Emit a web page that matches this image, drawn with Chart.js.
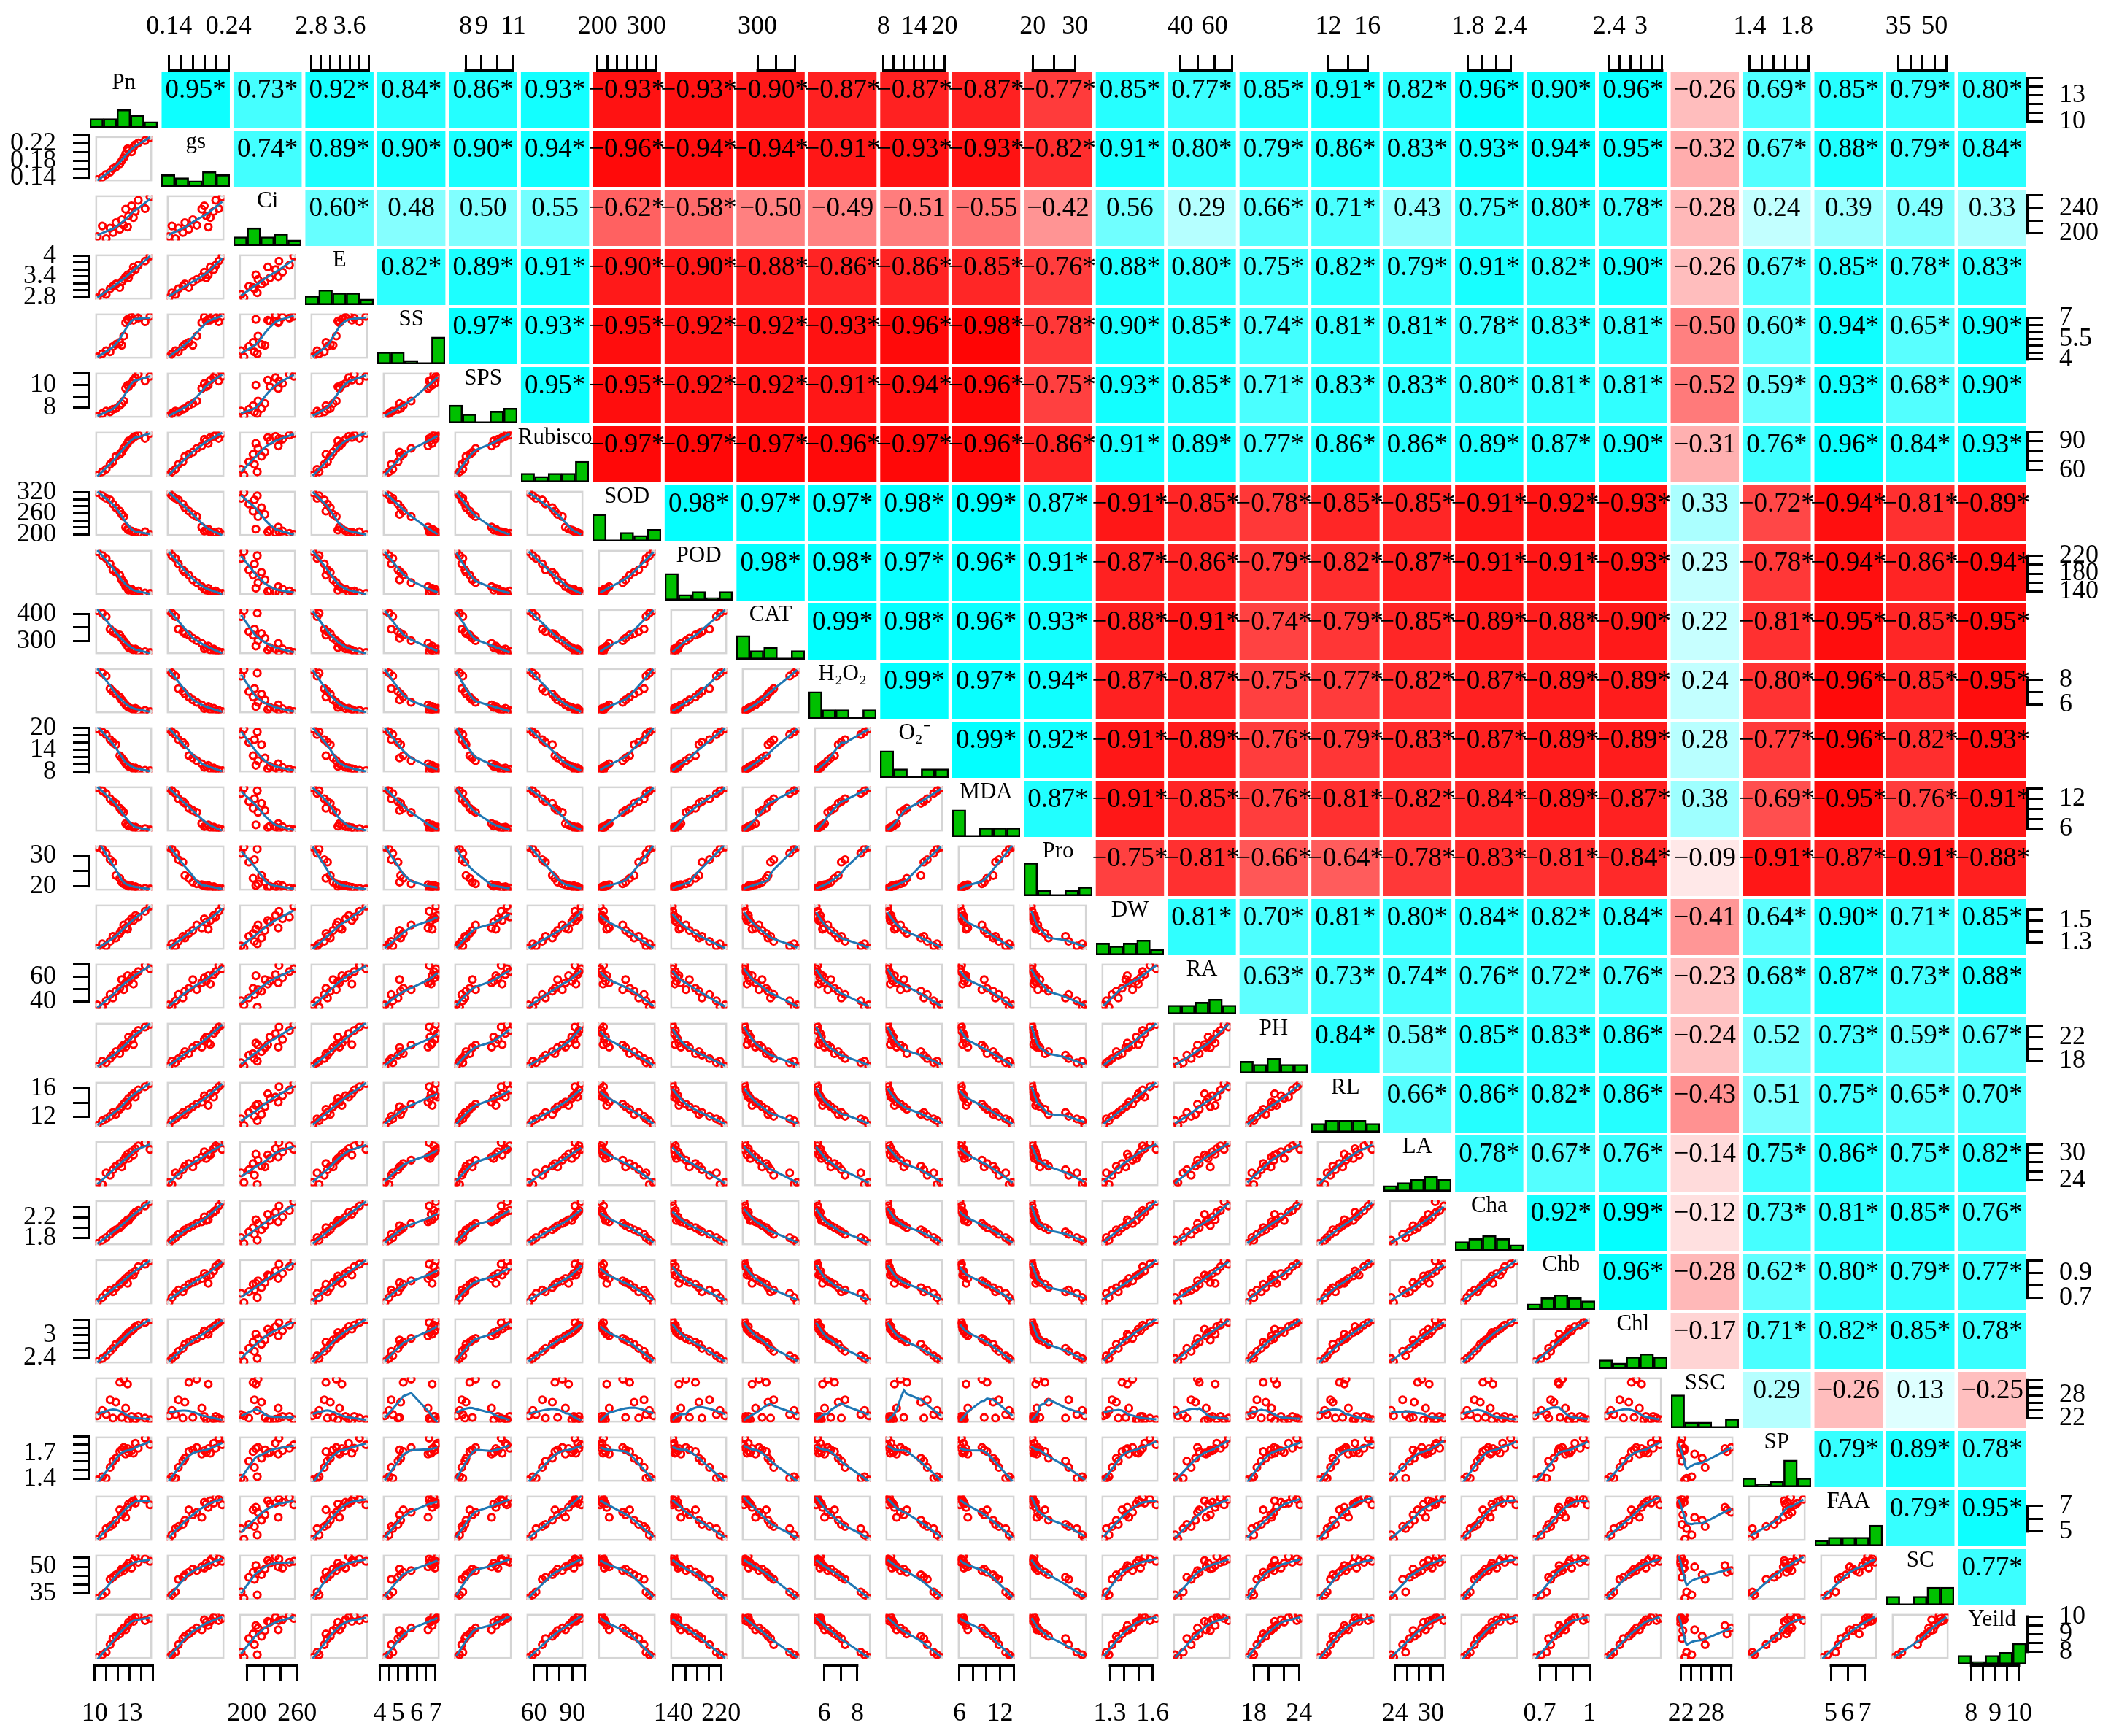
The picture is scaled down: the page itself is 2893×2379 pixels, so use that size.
<!DOCTYPE html>
<html lang="en">
<head>
<meta charset="UTF-8">
<title>Correlation matrix – pairs plot</title>
<script src="https://cdn.jsdelivr.net/npm/chart.js"></script>
<style>
  html, body { margin: 0; padding: 0; background: #fff; }
  #page { position: relative; width: 2893px; height: 2379px; overflow: hidden; background: #fff; }
  #page canvas { position: absolute; }
</style>
</head>
<body>
<div id="page"></div>
<script>
// variable names (columns of the data table)
const varNames = ['Pn', 'gs', 'Ci', 'E', 'SS', 'SPS', 'Rubisco', 'SOD', 'POD', 'CAT', 'H\u2082O\u2082', 'O\u2082\u207B', 'MDA', 'Pro',
  'DW', 'RA', 'PH', 'RL', 'LA', 'Cha', 'Chb', 'Chl', 'SSC', 'SP', 'FAA', 'SC', 'Yeild'];

const Pn = [9.8, 10.3, 10.7, 11.1, 11.4, 11.7, 12.1, 12.3, 12.5, 12.7, 12.9, 13.0, 13.3, 13.5, 13.7, 14.0, 14.7, 15.2];
const gs = [0.131, 0.137, 0.144, 0.150, 0.159, 0.163, 0.171, 0.179, 0.187, 0.197, 0.210, 0.206, 0.202, 0.214, 0.221, 0.225, 0.231, 0.238];
const Ci = [191, 210, 187, 206, 198, 216, 204, 221, 211, 240, 208, 228, 246, 225, 236, 256, 241, 262];
const E = [2.72, 2.88, 2.83, 3.01, 3.09, 3.16, 3.05, 3.23, 3.31, 3.39, 3.45, 3.35, 3.54, 3.70, 3.62, 3.76, 3.89, 4.05];
const SS = [4.00, 4.27, 4.51, 4.41, 4.85, 5.02, 5.19, 4.95, 5.70, 6.79, 7.06, 6.92, 7.23, 6.99, 7.40, 7.16, 6.86, 7.30];
const SPS = [7.10, 7.34, 7.58, 7.50, 7.74, 7.82, 8.10, 8.30, 8.54, 9.74, 10.06, 9.90, 10.22, 10.54, 10.78, 11.10, 10.46, 10.90];
const Rubisco = [52.0, 55.9, 58.9, 64.7, 67.7, 74.1, 76.5, 79.0, 83.4, 86.3, 89.2, 92.2, 94.1, 96.1, 97.6, 99.0, 95.1, 101.0];
const SOD = [325, 315, 307, 302, 289, 278, 267, 257, 250, 217, 211, 208, 205, 202, 200, 198, 203, 195];
const POD = [235, 225, 218, 204, 189, 183, 176, 164, 157, 147, 143, 138, 141, 135, 133, 136, 131, 130];
const CAT = [420, 410, 396, 345, 335, 327, 321, 308, 298, 287, 276, 270, 265, 260, 264, 255, 253, 250];
const H2O2 = [9.00, 8.70, 8.43, 7.29, 7.02, 6.80, 6.53, 6.26, 6.04, 5.81, 5.66, 5.58, 5.47, 5.39, 5.50, 5.28, 5.31, 5.20];
const O2 = [20.3, 19.4, 18.6, 17.1, 16.3, 15.6, 12.3, 11.6, 10.8, 9.9, 9.4, 9.1, 8.8, 8.4, 8.6, 8.2, 7.9, 7.8];
const MDA = [14.6, 14.0, 13.4, 12.2, 11.6, 11.2, 10.1, 9.6, 9.2, 6.7, 6.4, 6.1, 6.0, 5.8, 5.9, 5.5, 5.6, 5.3];
const Pro = [33.5, 32.8, 31.3, 29.0, 28.1, 23.3, 22.3, 20.9, 20.3, 20.0, 19.7, 19.4, 19.6, 19.1, 19.3, 18.8, 18.7, 18.5];
const DW = [1.220, 1.264, 1.242, 1.290, 1.343, 1.326, 1.374, 1.405, 1.462, 1.431, 1.418, 1.493, 1.528, 1.510, 1.563, 1.546, 1.607, 1.660];
const RA = [35.9, 34.0, 39.6, 45.1, 42.1, 48.1, 50.7, 58.4, 49.5, 55.5, 61.8, 56.9, 59.9, 54.4, 62.9, 65.5, 71.0, 68.0];
const PH = [16.5, 17.5, 17.2, 18.0, 18.7, 19.4, 19.0, 20.2, 20.7, 20.3, 21.1, 22.3, 21.8, 20.8, 23.0, 23.6, 24.3, 24.8];
const RL = [10.5, 11.2, 11.5, 11.9, 12.5, 12.2, 13.0, 13.4, 13.8, 14.1, 13.6, 14.7, 15.1, 15.4, 14.9, 16.0, 16.5, 17.0];
const LA = [23.0, 22.5, 25.4, 24.8, 26.2, 27.1, 27.8, 26.9, 28.6, 29.4, 30.1, 29.0, 30.7, 29.9, 31.5, 32.2, 33.0, 31.3];
const Cha = [1.650, 1.722, 1.776, 1.848, 1.902, 1.947, 1.992, 2.037, 2.082, 2.118, 2.163, 2.145, 2.226, 2.280, 2.325, 2.361, 2.460, 2.550];
const Chb = [0.640, 0.686, 0.724, 0.754, 0.739, 0.777, 0.807, 0.822, 0.838, 0.860, 0.815, 0.883, 0.906, 0.891, 0.929, 0.967, 0.990, 1.020];
const Chl = [2.250, 2.346, 2.418, 2.550, 2.634, 2.754, 2.814, 2.874, 2.922, 2.994, 3.042, 3.090, 3.138, 3.186, 3.258, 3.306, 3.378, 3.450];
const SSC = [22.0, 23.6, 22.4, 26.8, 21.3, 26.1, 32.0, 21.5, 33.0, 24.3, 31.5, 20.8, 21.8, 20.5, 21.0, 21.8, 21.3, 20.9];
const SP = [1.360, 1.403, 1.382, 1.522, 1.603, 1.641, 1.727, 1.749, 1.781, 1.695, 1.765, 1.716, 1.738, 1.706, 1.835, 1.770, 1.900, 1.814];
const FAA = [4.20, 4.57, 5.13, 5.31, 5.50, 5.87, 6.79, 6.35, 6.57, 6.12, 7.01, 7.31, 7.46, 7.60, 7.38, 7.90, 7.72, 7.23];
const SC = [31.0, 33.1, 34.9, 42.7, 44.0, 45.6, 47.1, 49.2, 48.2, 50.5, 51.3, 52.8, 49.7, 54.4, 57.0, 53.4, 55.4, 53.9];
const Yeild = [7.55, 7.71, 7.87, 8.35, 8.74, 8.88, 9.03, 9.25, 9.41, 9.30, 9.56, 9.78, 9.94, 9.83, 10.09, 10.20, 9.88, 10.01];

const series = [Pn, gs, Ci, E, SS, SPS, Rubisco, SOD, POD, CAT, H2O2, O2, MDA, Pro,
  DW, RA, PH, RL, LA, Cha, Chb, Chl, SSC, SP, FAA, SC, Yeild];

// tick marks of each variable's axis
const tickValues = [
  [10, 11, 12, 13, 14, 15], [0.14, 0.16, 0.18, 0.20, 0.22, 0.24], [200, 220, 240, 260], [2.8, 3.0, 3.2, 3.4, 3.6, 3.8, 4.0],
  [4, 4.5, 5, 5.5, 6, 6.5, 7], [8, 9, 10, 11], [60, 70, 80, 90, 100], [200, 220, 240, 260, 280, 300, 320],
  [140, 160, 180, 200, 220], [300, 350, 400], [6, 7, 8], [8, 10, 12, 14, 16, 18, 20], [6, 8, 10, 12, 14], [20, 25, 30],
  [1.3, 1.4, 1.5, 1.6], [40, 50, 60, 70], [18, 20, 22, 24], [12, 14, 16], [24, 26, 28, 30, 32], [1.8, 2.0, 2.2, 2.4],
  [0.7, 0.8, 0.9, 1.0], [2.4, 2.6, 2.8, 3.0, 3.2, 3.4], [22, 24, 26, 28, 30, 32], [1.4, 1.5, 1.6, 1.7, 1.8, 1.9],
  [5, 6, 7], [35, 40, 45, 50, 55], [8, 8.5, 9, 9.5, 10]
];
// labelled ticks on the top / bottom axes
const colTickLabels = [
  [10, 13], [0.14, 0.24], [200, 260], [2.8, 3.6], [4, 5, 6, 7], [8, 9, 11], [60, 90], [200, 300], [140, 220], [300],
  [6, 8], [8, 14, 20], [6, 12], [20, 30], [1.3, 1.6], [40, 60], [18, 24], [12, 16], [24, 30], [1.8, 2.4], [0.7, 1],
  [2.4, 3], [22, 28], [1.4, 1.8], [5, 6, 7], [35, 50], [8, 9, 10]
];
// labelled ticks on the left / right axes
const rowTickLabels = [
  [10, 13], [0.14, 0.18, 0.22], [200, 240], [2.8, 3.4, 4], [4, 5.5, 7], [8, 10], [60, 90], [200, 260, 320], [140, 180, 220],
  [300, 400], [6, 8], [8, 14, 20], [6, 12], [20, 30], [1.3, 1.5], [40, 60], [18, 22], [12, 16], [24, 30], [1.8, 2.2],
  [0.7, 0.9], [2.4, 3], [22, 28], [1.4, 1.7], [5, 7], [35, 50], [8, 9, 10]
];

// Pearson r, upper triangle, row by row
const corrRows = [
  [0.95, 0.73, 0.92, 0.84, 0.86, 0.93, -0.93, -0.93, -0.90, -0.87, -0.87, -0.87, -0.77, 0.85, 0.77, 0.85, 0.91, 0.82, 0.96, 0.90, 0.96, -0.26, 0.69, 0.85, 0.79, 0.80],
  [0.74, 0.89, 0.90, 0.90, 0.94, -0.96, -0.94, -0.94, -0.91, -0.93, -0.93, -0.82, 0.91, 0.80, 0.79, 0.86, 0.83, 0.93, 0.94, 0.95, -0.32, 0.67, 0.88, 0.79, 0.84],
  [0.60, 0.48, 0.50, 0.55, -0.62, -0.58, -0.50, -0.49, -0.51, -0.55, -0.42, 0.56, 0.29, 0.66, 0.71, 0.43, 0.75, 0.80, 0.78, -0.28, 0.24, 0.39, 0.49, 0.33],
  [0.82, 0.89, 0.91, -0.90, -0.90, -0.88, -0.86, -0.86, -0.85, -0.76, 0.88, 0.80, 0.75, 0.82, 0.79, 0.91, 0.82, 0.90, -0.26, 0.67, 0.85, 0.78, 0.83],
  [0.97, 0.93, -0.95, -0.92, -0.92, -0.93, -0.96, -0.98, -0.78, 0.90, 0.85, 0.74, 0.81, 0.81, 0.78, 0.83, 0.81, -0.50, 0.60, 0.94, 0.65, 0.90],
  [0.95, -0.95, -0.92, -0.92, -0.91, -0.94, -0.96, -0.75, 0.93, 0.85, 0.71, 0.83, 0.83, 0.80, 0.81, 0.81, -0.52, 0.59, 0.93, 0.68, 0.90],
  [-0.97, -0.97, -0.97, -0.96, -0.97, -0.96, -0.86, 0.91, 0.89, 0.77, 0.86, 0.86, 0.89, 0.87, 0.90, -0.31, 0.76, 0.96, 0.84, 0.93],
  [0.98, 0.97, 0.97, 0.98, 0.99, 0.87, -0.91, -0.85, -0.78, -0.85, -0.85, -0.91, -0.92, -0.93, 0.33, -0.72, -0.94, -0.81, -0.89],
  [0.98, 0.98, 0.97, 0.96, 0.91, -0.87, -0.86, -0.79, -0.82, -0.87, -0.91, -0.91, -0.93, 0.23, -0.78, -0.94, -0.86, -0.94],
  [0.99, 0.98, 0.96, 0.93, -0.88, -0.91, -0.74, -0.79, -0.85, -0.89, -0.88, -0.90, 0.22, -0.81, -0.95, -0.85, -0.95],
  [0.99, 0.97, 0.94, -0.87, -0.87, -0.75, -0.77, -0.82, -0.87, -0.89, -0.89, 0.24, -0.80, -0.96, -0.85, -0.95],
  [0.99, 0.92, -0.91, -0.89, -0.76, -0.79, -0.83, -0.87, -0.89, -0.89, 0.28, -0.77, -0.96, -0.82, -0.93],
  [0.87, -0.91, -0.85, -0.76, -0.81, -0.82, -0.84, -0.89, -0.87, 0.38, -0.69, -0.95, -0.76, -0.91],
  [-0.75, -0.81, -0.66, -0.64, -0.78, -0.83, -0.81, -0.84, -0.09, -0.91, -0.87, -0.91, -0.88],
  [0.81, 0.70, 0.81, 0.80, 0.84, 0.82, 0.84, -0.41, 0.64, 0.90, 0.71, 0.85],
  [0.63, 0.73, 0.74, 0.76, 0.72, 0.76, -0.23, 0.68, 0.87, 0.73, 0.88],
  [0.84, 0.58, 0.85, 0.83, 0.86, -0.24, 0.52, 0.73, 0.59, 0.67],
  [0.66, 0.86, 0.82, 0.86, -0.43, 0.51, 0.75, 0.65, 0.70],
  [0.78, 0.67, 0.76, -0.14, 0.75, 0.86, 0.75, 0.82],
  [0.92, 0.99, -0.12, 0.73, 0.81, 0.85, 0.76],
  [0.96, -0.28, 0.62, 0.80, 0.79, 0.77],
  [-0.17, 0.71, 0.82, 0.85, 0.78],
  [0.29, -0.26, 0.13, -0.25],
  [0.79, 0.89, 0.78],
  [0.79, 0.95],
  [0.77]
];
const sigCut = 0.57;   // values at or above this carry the star
const histBins = 5;

// ---- layout ----
const W = 2893, H = 2379, N = varNames.length;
const GX = 123, GY = 98, PITCH_X = 98.48, PITCH_Y = 81, GAP_X = 5, GAP_Y = 4;
const CELL_W = PITCH_X - GAP_X, CELL_H = PITCH_Y - GAP_Y;
const colL = j => Math.round(GX + j * PITCH_X);
const colR = j => Math.round(GX + j * PITCH_X + CELL_W);
const rowT = i => Math.round(GY + i * PITCH_Y);
const rowB = i => Math.round(GY + i * PITCH_Y + CELL_H);
const gridRight = colR(N - 1), gridBottom = rowB(N - 1);
const SERIF = '"Liberation Serif", "Times New Roman", serif';

Chart.defaults.animation = false;
Chart.defaults.responsive = false;
Chart.defaults.maintainAspectRatio = false;
Chart.defaults.devicePixelRatio = 1;
Chart.defaults.events = [];
Chart.defaults.plugins.legend.display = false;
Chart.defaults.plugins.tooltip.enabled = false;
Chart.defaults.font.family = SERIF;

const page = document.getElementById('page');
function addCanvas(left, top, w, h, z) {
  const c = document.createElement('canvas');
  c.width = w; c.height = h;
  c.style.left = left + 'px'; c.style.top = top + 'px';
  c.style.width = w + 'px'; c.style.height = h + 'px';
  if (z) c.style.zIndex = z;
  page.appendChild(c);
  return c;
}

// R style axis range: data range stretched by 4 %
const ranges = series.map(v => {
  const mn = Math.min(...v), mx = Math.max(...v), d = (mx - mn) * 0.04;
  return [mn - d, mx + d];
});

function histCounts(v) {
  const mn = Math.min(...v), mx = Math.max(...v);
  const c = new Array(histBins).fill(0);
  v.forEach(a => {
    let b = Math.floor((a - mn) / (mx - mn) * histBins + 1e-9);
    if (b >= histBins) b = histBins - 1;
    c[b]++;
  });
  return c;
}

// lowess smoother, like panel.smooth (f = 2/3, iter = 3)
function lowess(xs, ys, f, iter) {
  const n = xs.length;
  const order = xs.map((_, i) => i).sort((a, b) => xs[a] - xs[b]);
  const x = order.map(i => xs[i]), y = order.map(i => ys[i]);
  const r = Math.max(2, Math.min(n, Math.floor(f * n + 1e-7)));
  const span2 = Math.pow(x[n - 1] - x[0], 2) || 1;
  let rw = new Array(n).fill(1);
  const fit = new Array(n).fill(0);
  for (let it = 0; it <= iter; it++) {
    for (let i = 0; i < n; i++) {
      const d = x.map(v => Math.abs(v - x[i]));
      const h = d.slice().sort((a, b) => a - b)[r - 1];
      let sw = 0, sx = 0, sy = 0, sxx = 0, sxy = 0;
      for (let k = 0; k < n; k++) {
        const u = h > 0 ? d[k] / (h * 1.0001) : 0;
        let w = u < 1 ? Math.pow(1 - u * u * u, 3) : 0;
        w *= rw[k];
        sw += w; sx += w * x[k]; sy += w * y[k]; sxx += w * x[k] * x[k]; sxy += w * x[k] * y[k];
      }
      if (sw <= 0) { fit[i] = y[i]; continue; }
      const mx = sx / sw, my = sy / sw, vx = sxx / sw - mx * mx;
      const b = vx > 1e-9 * span2 ? (sxy / sw - mx * my) / vx : 0;
      fit[i] = my + b * (x[i] - mx);
    }
    if (it === iter) break;
    const res = y.map((v, k) => v - fit[k]);
    const a = res.map(Math.abs).sort((p, q) => p - q);
    const s = 6 * (a[Math.floor((n - 1) / 2)] + a[Math.ceil((n - 1) / 2)]) / 2;
    if (s <= 0) break;
    rw = res.map(e => { const u = Math.abs(e) / s; return u < 1 ? Math.pow(1 - u * u, 2) : 0; });
  }
  return x.map((v, k) => ({ x: v, y: fit[k] }));
}

const panelBox = {
  id: 'panelBox',
  beforeDatasetsDraw(chart) {
    const { ctx, chartArea: a } = chart;
    ctx.save();
    ctx.strokeStyle = '#d5d5d5';
    ctx.lineWidth = 2.5;
    ctx.strokeRect(a.left + 1.25, a.top + 1.25, a.width - 2.5, a.height - 2.5);
    ctx.restore();
  }
};

// ---- lower panels: scatter + smooth ----
for (let i = 1; i < N; i++) {
  for (let j = 0; j < i; j++) {
    const xs = series[j], ys = series[i];
    const pts = xs.map((v, k) => ({ x: v, y: ys[k] }));
    const cv = addCanvas(colL(j), rowT(i), colR(j) - colL(j), rowB(i) - rowT(i));
    new Chart(cv, {
      type: 'scatter',
      data: {
        datasets: [
          { type: 'line', data: lowess(xs, ys, 2 / 3, 3), borderColor: '#1f77b4', borderWidth: 3,
            pointRadius: 0, fill: false, tension: 0 },
          { data: pts, showLine: false, pointRadius: 4.6, pointBorderWidth: 3,
            borderColor: '#ff0000', pointBorderColor: '#ff0000', backgroundColor: 'rgba(0,0,0,0)' }
        ]
      },
      options: {
        layout: { padding: 0 },
        scales: {
          x: { type: 'linear', display: false, min: ranges[j][0], max: ranges[j][1] },
          y: { type: 'linear', display: false, min: ranges[i][0], max: ranges[i][1] }
        }
      },
      plugins: [panelBox]
    });
  }
}

// ---- diagonal: histograms ----
const histBase = {
  id: 'histBase',
  afterDatasetsDraw(chart) {
    const { ctx, chartArea: a } = chart;
    ctx.save();
    ctx.strokeStyle = '#000';
    ctx.lineWidth = 2.6;
    ctx.beginPath();
    ctx.moveTo(a.left, a.bottom - 1.3);
    ctx.lineTo(a.right, a.bottom - 1.3);
    ctx.stroke();
    ctx.restore();
  }
};
for (let k = 0; k < N; k++) {
  const cv = addCanvas(colL(k), rowT(k), colR(k) - colL(k), rowB(k) - rowT(k));
  new Chart(cv, {
    type: 'bar',
    data: {
      labels: ['1', '2', '3', '4', '5'],
      datasets: [{ data: histCounts(series[k]), backgroundColor: '#00c000', borderColor: '#000',
        borderWidth: 2.6, borderSkipped: false, barPercentage: 1, categoryPercentage: 1 }]
    },
    options: {
      layout: { padding: 0 },
      scales: {
        x: { display: false, offset: true },
        y: { display: false, min: 0, max: 18.6 }
      }
    },
    plugins: [histBase]
  });
}

// ---- outer axes ----
const sameVal = (a, b) => Math.abs(a - b) < 1e-9;
const axisLine = {
  id: 'axisLine',
  afterDraw(chart) {
    const s = chart.options.plugins.axisLine.side;
    const sc = s === 'top' || s === 'bottom' ? chart.scales.x : chart.scales.y;
    const t = sc.ticks;
    const p0 = sc.getPixelForValue(t[0].value), p1 = sc.getPixelForValue(t[t.length - 1].value);
    const a = chart.chartArea, ctx = chart.ctx;
    ctx.save();
    ctx.strokeStyle = '#000';
    ctx.lineWidth = 3;
    ctx.lineCap = 'square';
    ctx.beginPath();
    if (s === 'top') { ctx.moveTo(p0, a.top - 1.5); ctx.lineTo(p1, a.top - 1.5); }
    if (s === 'bottom') { ctx.moveTo(p0, a.bottom + 1.5); ctx.lineTo(p1, a.bottom + 1.5); }
    if (s === 'left') { ctx.moveTo(a.left - 1.5, p0); ctx.lineTo(a.left - 1.5, p1); }
    if (s === 'right') { ctx.moveTo(a.right + 1.5, p0); ctx.lineTo(a.right + 1.5, p1); }
    ctx.stroke();
    ctx.restore();
  }
};

function axisScale(k, side, size, labs, pad) {
  const horiz = side === 'top' || side === 'bottom';
  return {
    type: 'linear', position: side, bounds: 'data',
    min: ranges[k][0], max: ranges[k][1],
    afterBuildTicks: s => { s.ticks = tickValues[k].map(v => ({ value: v })); },
    afterFit: s => { if (horiz) s.height = size; else s.width = size; },
    grid: { display: true, drawOnChartArea: false, drawTicks: true, tickLength: 23, color: '#000', lineWidth: 3 },
    border: { display: false },
    ticks: {
      autoSkip: false, maxRotation: 0, minRotation: 0, padding: pad, color: '#000',
      font: { family: SERIF, size: 36 },
      callback: v => (labs.some(l => sameVal(l, v)) ? String(v) : '')
    }
  };
}

const PADX = 70, PADY = 40;
for (let k = 0; k < N; k++) {
  if (k % 2 === 1) {
    // top axis
    const cv = addCanvas(colL(k) - PADX, 0, colR(k) - colL(k) + 2 * PADX, GY + 10);
    new Chart(cv, {
      type: 'scatter', data: { datasets: [] },
      options: {
        layout: { autoPadding: false, padding: { left: PADX, right: PADX, top: 0, bottom: 0 } },
        scales: { x: axisScale(k, 'top', GY, colTickLabels[k], 17), y: { display: false } },
        plugins: { axisLine: { side: 'top' } }
      },
      plugins: [axisLine]
    });
    // left axis
    const cl = addCanvas(0, rowT(k) - PADY, GX + 10, rowB(k) - rowT(k) + 2 * PADY);
    new Chart(cl, {
      type: 'scatter', data: { datasets: [] },
      options: {
        layout: { autoPadding: false, padding: { left: 0, right: 0, top: PADY, bottom: PADY } },
        scales: { y: axisScale(k, 'left', GX, rowTickLabels[k], 23), x: { display: false } },
        plugins: { axisLine: { side: 'left' } }
      },
      plugins: [axisLine]
    });
  } else {
    // bottom axis
    const bh = H - gridBottom;
    const cv = addCanvas(colL(k) - PADX, gridBottom - 10, colR(k) - colL(k) + 2 * PADX, bh + 10);
    new Chart(cv, {
      type: 'scatter', data: { datasets: [] },
      options: {
        layout: { autoPadding: false, padding: { left: PADX, right: PADX, top: 0, bottom: 0 } },
        scales: { x: axisScale(k, 'bottom', bh, colTickLabels[k], 23), y: { display: false } },
        plugins: { axisLine: { side: 'bottom' } }
      },
      plugins: [axisLine]
    });
    // right axis
    const rw = W - gridRight;
    const cr = addCanvas(gridRight - 10, rowT(k) - PADY, rw + 10, rowB(k) - rowT(k) + 2 * PADY);
    new Chart(cr, {
      type: 'scatter', data: { datasets: [] },
      options: {
        layout: { autoPadding: false, padding: { left: 0, right: 0, top: PADY, bottom: PADY } },
        scales: { y: axisScale(k, 'right', rw, rowTickLabels[k], 22), x: { display: false } },
        plugins: { axisLine: { side: 'right' } }
      },
      plugins: [axisLine]
    });
  }
}

// ---- upper panels (coloured r cells) and diagonal names, on top ----
function corrColor(r) {
  if (r >= 0) { const c = Math.round(255 * (1 - r)); return `rgb(${c},255,255)`; }
  const c = Math.round(255 * (1 + r));
  return `rgb(255,${c},${c})`;
}
const fmtR = r => (r < 0 ? '\u2212' : '') + Math.abs(r).toFixed(2) + (Math.abs(r) >= sigCut ? '*' : '');

const matrixLayer = {
  id: 'matrixLayer',
  afterDraw(chart) {
    const { ctx } = chart, xs = chart.scales.x, ys = chart.scales.y;
    const fx = CELL_W / PITCH_X, fy = CELL_H / PITCH_Y;
    ctx.save();
    for (let i = 0; i < N; i++) {
      for (let j = i + 1; j < N; j++) {
        const r = corrRows[i][j - i - 1];
        const x0 = xs.getPixelForValue(j), x1 = xs.getPixelForValue(j + fx);
        const y0 = ys.getPixelForValue(i), y1 = ys.getPixelForValue(i + fy);
        ctx.fillStyle = corrColor(r);
        ctx.fillRect(x0, y0, x1 - x0, y1 - y0);
      }
    }
    ctx.fillStyle = '#000';
    ctx.textAlign = 'center';
    ctx.textBaseline = 'alphabetic';
    ctx.font = '37px ' + SERIF;
    for (let i = 0; i < N; i++) {
      for (let j = i + 1; j < N; j++) {
        const r = corrRows[i][j - i - 1];
        const cx = (xs.getPixelForValue(j) + xs.getPixelForValue(j + fx)) / 2;
        ctx.fillText(fmtR(r), cx, ys.getPixelForValue(i) + 36);
      }
    }
    ctx.font = '31px ' + SERIF;
    for (let k = 0; k < N; k++) {
      const cx = (xs.getPixelForValue(k) + xs.getPixelForValue(k + fx)) / 2;
      ctx.fillText(varNames[k], cx, ys.getPixelForValue(k) + 24);
    }
    ctx.restore();
  }
};
const ov = addCanvas(0, 0, W, H, 5);
ov.style.pointerEvents = 'none';
new Chart(ov, {
  type: 'scatter', data: { datasets: [] },
  options: {
    layout: { autoPadding: false, padding: { left: GX, top: GY, right: W - (GX + N * PITCH_X), bottom: H - (GY + N * PITCH_Y) } },
    scales: {
      x: { type: 'linear', display: false, min: 0, max: N },
      y: { type: 'linear', display: false, min: 0, max: N, reverse: true }
    }
  },
  plugins: [matrixLayer]
});
</script>
</body>
</html>
